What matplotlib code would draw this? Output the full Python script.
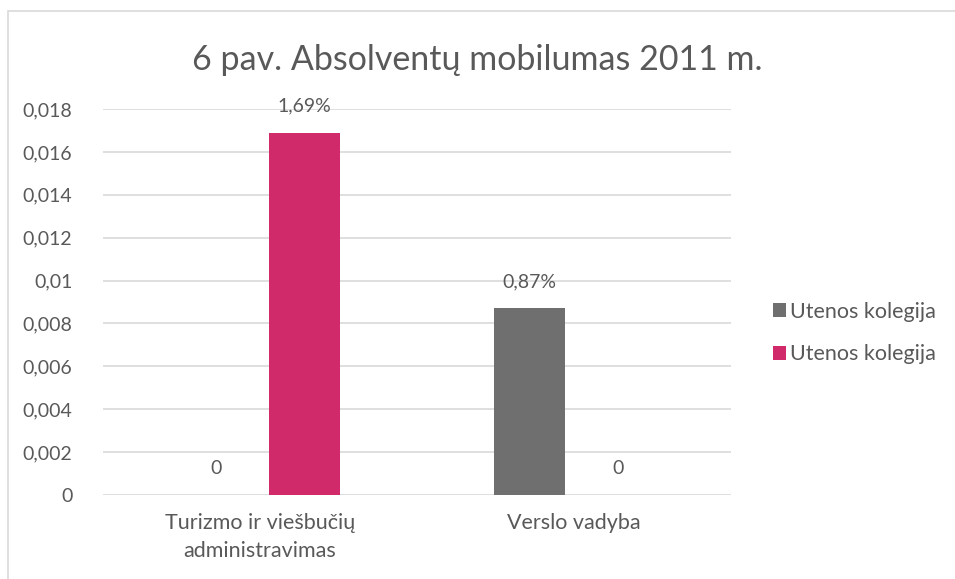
import matplotlib.pyplot as plt
from matplotlib.patches import Rectangle

# data
categories = ["Turizmo ir viešbučių\nadministravimas", "Verslo vadyba"]
series_names = ["Utenos kolegija", "Utenos kolegija"]
gray_vals = [0, 0.0087]
pink_vals = [0.0169, 0]
gray_labels = ["0", "0,87%"]
pink_labels = ["1,69%", "0"]
yticks = [0, 0.002, 0.004, 0.006, 0.008, 0.01, 0.012, 0.014, 0.016, 0.018]
ytick_labels = ["0", "0,002", "0,004", "0,006", "0,008", "0,01", "0,012", "0,014", "0,016", "0,018"]

txt = "#595959"
plt.rcParams['font.family'] = ['Lato', 'DejaVu Sans']

fig = plt.figure(figsize=(9.55, 5.79), dpi=100)
# chart border
fig.patches.append(Rectangle((8/955, -0.1), 1.2, 1 - 11/579 + 0.1, transform=fig.transFigure,
                             fill=False, edgecolor="#d9d9d9", linewidth=1.2))
ax = fig.add_axes([103/955, 1 - 495/579, 628/955, 386/579])

x = range(len(categories))
w = 0.226
off = 0.141
b1 = ax.bar([i - off for i in x], gray_vals, w, color="#6f6f6f", label=series_names[0], zorder=3)
b2 = ax.bar([i + off for i in x], pink_vals, w, color="#d12a6b", label=series_names[1], zorder=3)

for bars, labs in ((b1, gray_labels), (b2, pink_labels)):
    for r, lab in zip(bars, labs):
        ax.annotate(lab, (r.get_x() + r.get_width()/2, r.get_height()),
                    xytext=(0, 19), textcoords="offset points", ha="center", va="center",
                    fontsize=14, color=txt)

ax.set_xlim(-0.5, 1.5)
ax.set_ylim(0, 0.018)
ax.set_yticks(yticks)
ax.set_yticklabels(ytick_labels)
ax.set_xticks(list(x))
ax.set_xticklabels(categories, linespacing=1.5, fontsize=15.5)
ax.tick_params(axis="both", length=0, colors=txt)
ax.tick_params(axis="y", pad=22, labelsize=14)
ax.tick_params(axis="x", pad=13)
ax.grid(axis="y", color="#d9d9d9", linewidth=1.2, zorder=0)
for s in ax.spines.values():
    s.set_visible(False)

fig.text(0.5, 1 - 60/579, "6 pav. Absolventų mobilumas 2011 m.", ha="center", va="center",
         fontsize=24.5, color=txt)

fig.legend(handles=[b1, b2], loc="center left", bbox_to_anchor=(773/955, 1 - 333/579),
           frameon=False, fontsize=15.5, labelcolor=txt, handlelength=0.6, handleheight=0.6,
           handletextpad=0.2, labelspacing=1.05, borderpad=0, borderaxespad=0)

fig.savefig("out.png", dpi=100)
